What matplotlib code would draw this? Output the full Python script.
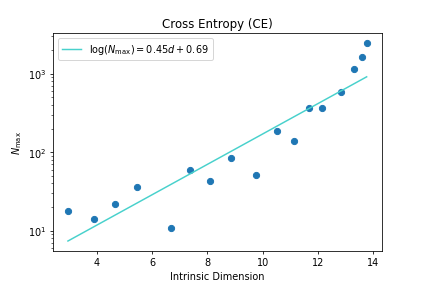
import numpy as np
import matplotlib
matplotlib.use('Agg')
import matplotlib.pyplot as plt

# intrinsic dimension vs N_max
d = np.array([2.95, 3.9, 4.66, 5.44, 6.68, 7.37, 8.08, 8.86, 9.75,
              10.51, 11.15, 11.69, 12.15, 12.84, 13.31, 13.61, 13.77])
nmax = np.array([18, 14.3, 21.7, 36.5, 10.8, 60, 43, 84, 51.5,
                 185, 141, 367, 367, 587, 1147, 1640, 2450])

# fit (natural log), label shows rounded values
slope = 0.445
icpt = 0.689

dd = np.linspace(d.min(), d.max(), 100)

fig = plt.figure(figsize=(6, 4), dpi=424/6)
plt.title('Cross Entropy (CE)')
plt.scatter(d, nmax, color='C0', s=40)
plt.plot(dd, np.exp(slope*dd + icpt), color='mediumturquoise',
         label=r'$\log(N_{\max}) = 0.45d + 0.69$')
plt.yscale('log')
plt.xlabel('Intrinsic Dimension')
plt.ylabel(r'$N_{\max}$')
plt.legend(loc='upper left')
plt.savefig('out.png')
